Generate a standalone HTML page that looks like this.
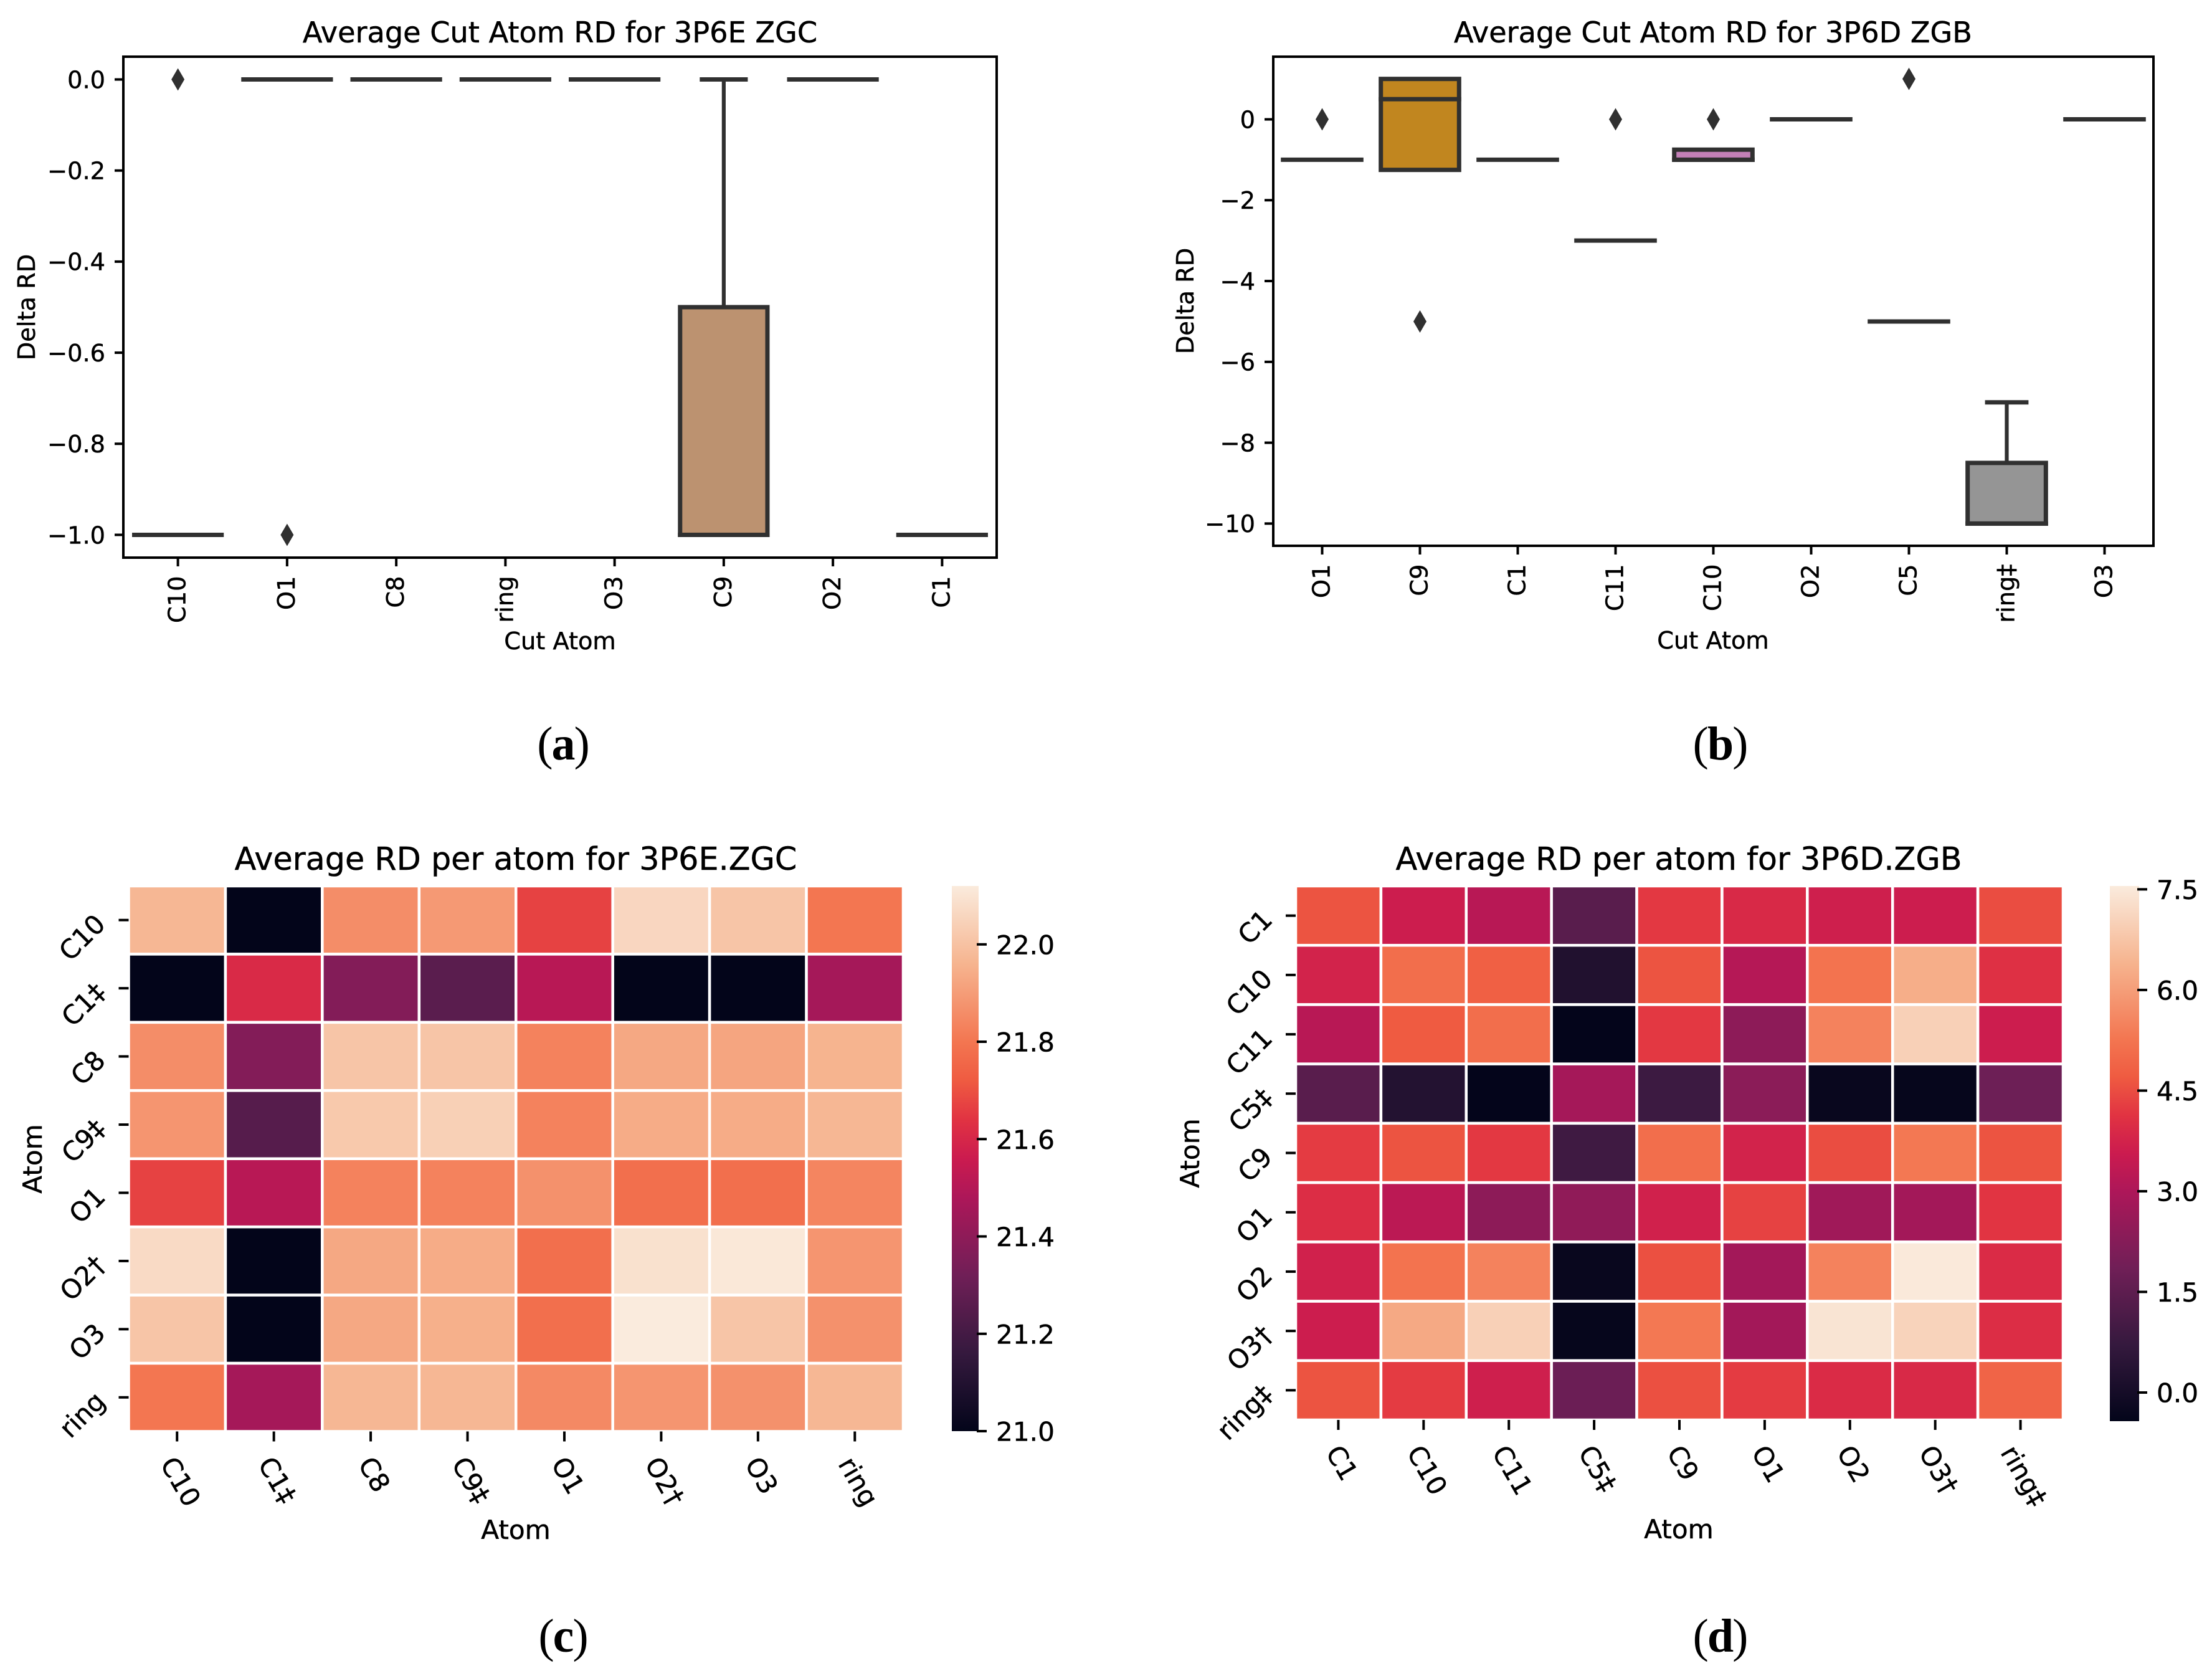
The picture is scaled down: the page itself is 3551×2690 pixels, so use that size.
<!DOCTYPE html>
<html lang="en">
<head>
<meta charset="utf-8">
<title>Average Cut Atom RD and Average RD per atom for 3P6E ZGC and 3P6D ZGB</title>
<style>
html,body{margin:0;padding:0;background:#fff;}
svg{display:block;}
text{font-family:"DejaVu Sans","Liberation Sans",sans-serif;fill:#000;stroke:#000;stroke-width:0.5px;}
.caption{font-family:"Liberation Serif",serif;font-size:76px;letter-spacing:-2px;stroke:none;}
.title-box{font-size:46.2px;}
.title-heat{font-size:50.8px;}
.label-box{font-size:38.3px;}
.label-heat{font-size:42.2px;}
</style>
</head>
<body>
<svg id="fig" xmlns="http://www.w3.org/2000/svg" width="3551" height="2690" viewBox="0 0 3551 2690">
  <defs>
    <linearGradient id="rocketGrad" x1="0" y1="1" x2="0" y2="0"></linearGradient>
  </defs>
  <rect x="0" y="0" width="3551" height="2690" fill="#ffffff"/>

  <g id="panelA">
    <text class="title-box" x="899" y="68" text-anchor="middle">Average Cut Atom RD for 3P6E ZGC</text>
    <text class="label-box" x="899" y="1042" text-anchor="middle">Cut Atom</text>
    <text class="label-box" transform="rotate(-90 56 493)" x="56" y="493" text-anchor="middle">Delta RD</text>
    <text class="caption" x="903.5" y="1219" text-anchor="middle">(<tspan font-weight="bold">a</tspan>)</text>
  </g>

  <g id="panelB">
    <text class="title-box" x="2750" y="68" text-anchor="middle">Average Cut Atom RD for 3P6D ZGB</text>
    <text class="label-box" x="2750" y="1041" text-anchor="middle">Cut Atom</text>
    <text class="label-box" transform="rotate(-90 1916 483)" x="1916" y="483" text-anchor="middle">Delta RD</text>
    <text class="caption" x="2761" y="1219" text-anchor="middle">(<tspan font-weight="bold">b</tspan>)</text>
  </g>

  <g id="panelC">
    <text class="title-heat" x="828" y="1396" text-anchor="middle">Average RD per atom for 3P6E.ZGC</text>
    <text class="label-heat" x="828" y="2470" text-anchor="middle">Atom</text>
    <text class="label-heat" transform="rotate(-90 67 1860)" x="67" y="1860" text-anchor="middle">Atom</text>
    <text class="caption" x="903.5" y="2651" text-anchor="middle">(<tspan font-weight="bold">c</tspan>)</text>
  </g>

  <g id="panelD">
    <text class="title-heat" x="2695" y="1396" text-anchor="middle">Average RD per atom for 3P6D.ZGB</text>
    <text class="label-heat" x="2695" y="2469" text-anchor="middle">Atom</text>
    <text class="label-heat" transform="rotate(-90 1925 1851)" x="1925" y="1851" text-anchor="middle">Atom</text>
    <text class="caption" x="2761" y="2651" text-anchor="middle">(<tspan font-weight="bold">d</tspan>)</text>
  </g>
</svg>

<script>
// ---------- Panel (a) data ----------
const boxACategories = ['C10','O1','C8','ring','O3','C9','O2','C1'];
const boxAMedians    = [-1, 0, 0, 0, 0, -1, 0, -1];
const boxAQ1         = [-1, 0, 0, 0, 0, -1, 0, -1];
const boxAQ3         = [-1, 0, 0, 0, 0, -0.5, 0, -1];
const boxAWhiskerTop = [null, null, null, null, null, 0, null, null];
const boxAOutliers   = [[0], [-1], [], [], [], [], [], []];
const boxAYTicks     = [0, -0.2, -0.4, -0.6, -0.8, -1];
const boxAYTickLabels = ['0.0','\u22120.2','\u22120.4','\u22120.6','\u22120.8','\u22121.0'];
const boxAYDomain    = [-1.05, 0.05];
const boxAFills      = {C9:'#BC9270'};

// ---------- Panel (b) data ----------
const boxBCategories = ['O1','C9','C1','C11','C10','O2','C5','ring\u2021','O3'];
const boxBMedians    = [-1, 0.5, -1, -3, -1, 0, -5, -10, 0];
const boxBQ1         = [-1, -1.25, -1, -3, -1, 0, -5, -10, 0];
const boxBQ3         = [-1, 1, -1, -3, -0.75, 0, -5, -8.5, 0];
const boxBWhiskerTop = [null, null, null, null, null, null, null, -7, null];
const boxBOutliers   = [[0], [-5], [], [0], [0], [], [1], [], []];
const boxBYTicks     = [0, -2, -4, -6, -8, -10];
const boxBYTickLabels = ['0','\u22122','\u22124','\u22126','\u22128','\u221210'];
const boxBYDomain    = [-10.55, 1.55];
const boxBFills      = {C9:'#C1861F', C10:'#C380B7', 'ring\u2021':'#959595'};

// ---------- Panel (c) data ----------
const heatCColumns = ['C10','C1\u2021','C8','C9\u2021','O1','O2\u2020','O3','ring'];
const heatCRows    = ['C10','C1\u2021','C8','C9\u2021','O1','O2\u2020','O3','ring'];
const heatCValues  = [
  [21.97, 21.00, 21.86, 21.89, 21.67, 22.06, 22.01, 21.80],
  [21.00, 21.61, 21.37, 21.26, 21.51, 21.00, 21.00, 21.46],
  [21.86, 21.37, 22.01, 22.01, 21.83, 21.93, 21.92, 21.96],
  [21.88, 21.25, 22.02, 22.04, 21.83, 21.94, 21.94, 21.97],
  [21.67, 21.51, 21.83, 21.83, 21.87, 21.78, 21.78, 21.84],
  [22.07, 21.00, 21.93, 21.94, 21.78, 22.09, 22.11, 21.88],
  [22.01, 21.00, 21.93, 21.95, 21.78, 22.12, 22.01, 21.87],
  [21.80, 21.46, 21.97, 21.97, 21.85, 21.88, 21.87, 21.97]
];
const heatCRange = [21.0, 22.12];
const heatCBarTicks = [21.0, 21.2, 21.4, 21.6, 21.8, 22.0];
const heatCBarTickLabels = ['21.0','21.2','21.4','21.6','21.8','22.0'];

// ---------- Panel (d) data ----------
const heatDColumns = ['C1','C10','C11','C5\u2021','C9','O1','O2','O3\u2020','ring\u2021'];
const heatDRows    = ['C1','C10','C11','C5\u2021','C9','O1','O2','O3\u2020','ring\u2021'];
const heatDValues  = [
  [4.60, 3.60, 3.20, 1.40, 4.20, 3.90, 3.65, 3.60, 4.50],
  [3.75, 5.10, 4.80, 0.25, 4.60, 3.15, 5.20, 6.30, 4.05],
  [3.20, 4.70, 5.10, -0.40, 4.20, 2.40, 5.50, 7.00, 3.60],
  [1.40, 0.30, -0.40, 2.85, 0.85, 2.35, -0.30, -0.35, 1.80],
  [4.25, 4.60, 4.20, 0.90, 5.10, 3.75, 4.50, 5.30, 4.60],
  [4.00, 3.25, 2.40, 2.45, 3.70, 4.35, 2.75, 2.80, 4.15],
  [3.70, 5.20, 5.50, -0.30, 4.55, 2.80, 5.50, 7.50, 3.95],
  [3.60, 6.20, 7.00, -0.35, 5.30, 2.80, 7.40, 7.05, 4.00],
  [4.60, 4.25, 3.65, 1.75, 4.55, 4.25, 3.95, 3.90, 4.90]
];
const heatDRange = [-0.427, 7.55];
const heatDBarTicks = [0, 1.5, 3, 4.5, 6, 7.5];
const heatDBarTickLabels = ['0.0','1.5','3.0','4.5','6.0','7.5'];

// ---------- Shared helpers ----------
const NS = 'http://www.w3.org/2000/svg';
const DARK = '#303030';
const rocketStops   = ['#03051a','#35193e','#701f57','#ad1759','#cb1b4f','#e13342','#ef5b41','#f37651','#f6b48f','#faebdd'];
const rocketOffsets = [0, 0.1429, 0.2857, 0.4286, 0.5, 0.5714, 0.643, 0.7143, 0.8571, 1];

function hexToRgb(h){
  return [parseInt(h.slice(1,3),16), parseInt(h.slice(3,5),16), parseInt(h.slice(5,7),16)];
}
function rocket(t){
  const c = Math.max(0, Math.min(1, t));
  let i = 0;
  while (i < rocketOffsets.length - 2 && c > rocketOffsets[i + 1]) i++;
  const f = (c - rocketOffsets[i]) / (rocketOffsets[i + 1] - rocketOffsets[i]);
  const a = hexToRgb(rocketStops[i]);
  const b = hexToRgb(rocketStops[i + 1]);
  return 'rgb(' + a.map(function(v, k){ return Math.round(v + (b[k] - v) * f); }).join(',') + ')';
}
function mk(parent, tag, props, txt){
  const el = document.createElementNS(NS, tag);
  for (const k in props) el.setAttribute(k, props[k]);
  if (txt !== undefined) el.textContent = txt;
  parent.appendChild(el);
  return el;
}
function linearScale(domain, range){
  return function(v){
    return range[0] + (v - domain[0]) / (domain[1] - domain[0]) * (range[1] - range[0]);
  };
}
function bandCenter(start, end, n){
  const step = (end - start) / n;
  return function(i){ return start + step * (i + 0.5); };
}
function line(parent, x1, y1, x2, y2, color, w, cap){
  return mk(parent, 'line', {x1:x1, y1:y1, x2:x2, y2:y2, stroke:color, 'stroke-width':w, 'stroke-linecap':cap || 'butt'});
}

// ---------- Box chart ----------
function drawBoxChart(root, p, frame, cats, med, q1, q3, whiskTop, outliers, yTicks, yLabels, yDomain, fills){
  const X = bandCenter(frame.x0, frame.x1, cats.length);
  const Y = linearScale(yDomain, [frame.y1, frame.y0]);
  const step = (frame.x1 - frame.x0) / cats.length;
  const boxW = step * 0.8;
  const lw = 7;

  cats.forEach(function(cat, i){
    const cx = X(i);
    const group = mk(root, 'g', {});
    
    

    if (whiskTop[i] !== null){
      const wh = line(group, cx, Y(q3[i]), cx, Y(whiskTop[i]), DARK, 6.2);
      
      
      const cap = line(group, cx - boxW / 4, Y(whiskTop[i]), cx + boxW / 4, Y(whiskTop[i]), DARK, lw, 'square');
      
      
    }
    if (q1[i] !== q3[i]){
      const r = mk(group, 'rect', {x:cx - boxW / 2, y:Y(q3[i]), width:boxW, height:Y(q1[i]) - Y(q3[i]), fill:fills[cat] || '#999', stroke:DARK, 'stroke-width':lw});
      
      
    }
    const m = line(group, cx - boxW / 2, Y(med[i]), cx + boxW / 2, Y(med[i]), DARK, lw, 'square');
    
    

    outliers[i].forEach(function(v){
      const oy = Y(v);
      const d = mk(group, 'path', {d:'M' + cx + ' ' + (oy - 18) + 'L' + (cx + 10.5) + ' ' + oy + 'L' + cx + ' ' + (oy + 18) + 'L' + (cx - 10.5) + ' ' + oy + 'Z', fill:DARK});
      
      
    });

    const t = line(root, cx, frame.y1, cx, frame.y1 + 14, '#000', 4);
    
    
    const lb = mk(root, 'text', {'class':'label-box', x:cx + 12, y:frame.y1 + 29.5, 'text-anchor':'end', transform:'rotate(-90 ' + (cx + 12) + ' ' + (frame.y1 + 29.5) + ')'}, cat);
    
    
  });

  yTicks.forEach(function(v, i){
    const ty = Y(v);
    const t = line(root, frame.x0, ty, frame.x0 - 14, ty, '#000', 4);
    
    
    const lb = mk(root, 'text', {'class':'label-box', x:frame.x0 - 29, y:ty + 13.8, 'text-anchor':'end'}, yLabels[i]);
    
    
  });

  const f = mk(root, 'rect', {x:frame.x0, y:frame.y0, width:frame.x1 - frame.x0, height:frame.y1 - frame.y0, fill:'none', stroke:'#000', 'stroke-width':4});
  
  
}

// ---------- Heatmap ----------
function drawHeatmap(root, p, frame, bar, cols, rows, values, range, barTicks, barLabels){
  const X = bandCenter(frame.x0, frame.x1, cols.length);
  const Y = bandCenter(frame.y0, frame.y1, rows.length);
  const w = (frame.x1 - frame.x0) / cols.length;
  const h = (frame.y1 - frame.y0) / rows.length;
  const tOf = linearScale(range, [0, 1]);

  rows.forEach(function(rowName, r){
    cols.forEach(function(colName, c){
      const cell = mk(root, 'rect', {x:X(c) - w / 2, y:Y(r) - h / 2, width:w, height:h, fill:rocket(tOf(values[r][c])), stroke:'#ffffff', 'stroke-width':4.5});
      
      
    });
  });

  cols.forEach(function(name, c){
    const cx = X(c);
    const t = line(root, cx, frame.y1, cx, frame.y1 + 16, '#000', 4);
    
    
    const lb = mk(root, 'text', {'class':'label-heat', 'text-anchor':'start'}, name);
    
    
    const L = lb.getComputedTextLength();
    const px = cx - (0.5 * L + 26) / 2 + 6;
    const py = frame.y1 + 52;
    lb.setAttribute('x', px);
    lb.setAttribute('y', py);
    lb.setAttribute('transform', 'rotate(60 ' + px + ' ' + py + ')');
  });

  rows.forEach(function(name, r){
    const cy = Y(r);
    const t = line(root, frame.x0, cy, frame.x0 - 16, cy, '#000', 4);
    
    
    const px = frame.x0 - 35;
    const py = cy + 9;
    const lb = mk(root, 'text', {'class':'label-heat', 'text-anchor':'end', x:px, y:py, transform:'rotate(-45 ' + px + ' ' + py + ')'}, name);
    
    
  });

  const cb = mk(root, 'rect', {x:bar.x0, y:bar.y0, width:bar.x1 - bar.x0, height:bar.y1 - bar.y0, fill:'url(#rocketGrad)'});
  
  
  const BY = linearScale(range, [bar.y1, bar.y0]);
  barTicks.forEach(function(v, i){
    const ty = BY(v);
    const t = line(root, bar.x1 - 3, ty, bar.x1 + 13, ty, '#000', 4);
    
    
    const lb = mk(root, 'text', {'class':'label-heat', x:bar.x1 + 28, y:ty + 15.5}, barLabels[i]);
    
    
  });
}

// ---------- Build ----------
const grad = document.getElementById('rocketGrad');
rocketStops.forEach(function(col, i){
  const s = mk(grad, 'stop', {offset:rocketOffsets[i], 'stop-color':col});
  
  
});

drawBoxChart(document.getElementById('panelA'), 'panel-a', {x0:198, x1:1600, y0:91, y1:895},
  boxACategories, boxAMedians, boxAQ1, boxAQ3, boxAWhiskerTop, boxAOutliers, boxAYTicks, boxAYTickLabels, boxAYDomain, boxAFills);
drawBoxChart(document.getElementById('panelB'), 'panel-b', {x0:2044, x1:3457, y0:91, y1:876},
  boxBCategories, boxBMedians, boxBQ1, boxBQ3, boxBWhiskerTop, boxBOutliers, boxBYTicks, boxBYTickLabels, boxBYDomain, boxBFills);
drawHeatmap(document.getElementById('panelC'), 'panel-c', {x0:206.5, x1:1450, y0:1422, y1:2297.5}, {x0:1528, x1:1571, y0:1422, y1:2297},
  heatCColumns, heatCRows, heatCValues, heatCRange, heatCBarTicks, heatCBarTickLabels);
drawHeatmap(document.getElementById('panelD'), 'panel-d', {x0:2080, x1:3312, y0:1422, y1:2279}, {x0:3387, x1:3434, y0:1422, y1:2281},
  heatDColumns, heatDRows, heatDValues, heatDRange, heatDBarTicks, heatDBarTickLabels);
</script>
</body>
</html>
